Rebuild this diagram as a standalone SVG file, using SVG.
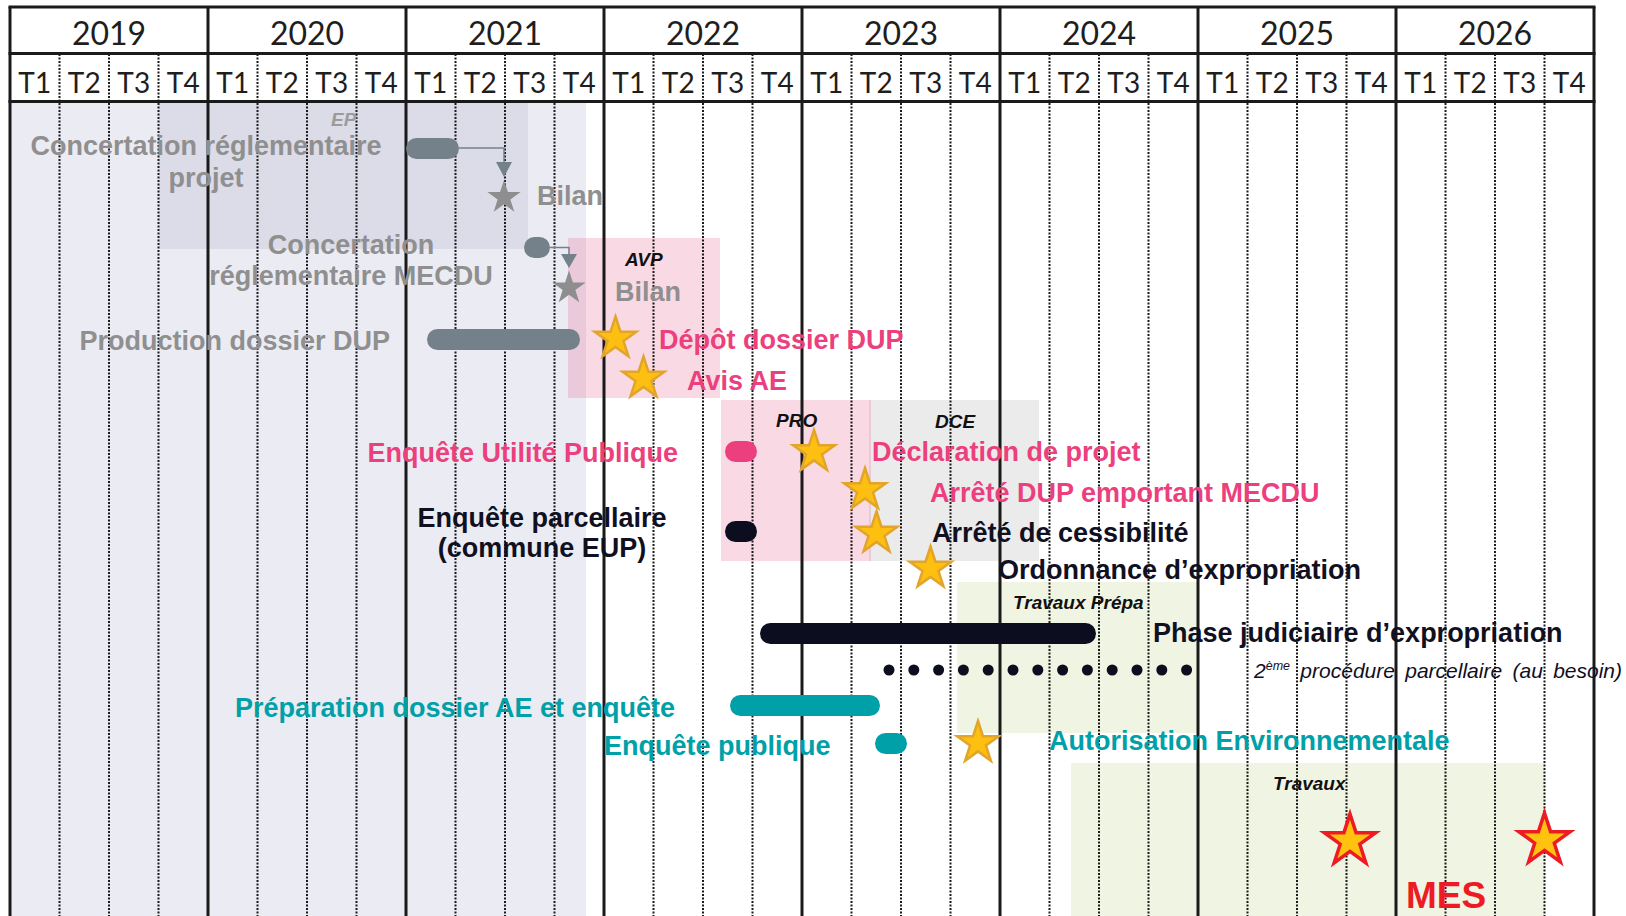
<svg xmlns="http://www.w3.org/2000/svg" xmlns:xlink="http://www.w3.org/1999/xlink" width="1626" height="916" viewBox="0 0 1626 916">
<style>
.yr{font-family:Lato,"Open Sans",sans-serif;font-size:32px;fill:#1e1e1e;text-anchor:middle}
.qt{font-family:Lato,"Open Sans",sans-serif;font-size:28px;fill:#1e1e1e;text-anchor:middle}
.lbl{font-family:"Liberation Sans",Arial,sans-serif;font-weight:bold;font-size:27px}
.tag{font-family:"Liberation Sans",Arial,sans-serif;font-weight:bold;font-style:italic;font-size:19px;fill:#111111}
.gray{fill:#8f8f8f}
.pink{fill:#ec3f7d}
.teal{fill:#00a0a8}
.dark{fill:#10101f}
.solid{stroke:#1a1a1a;stroke-width:3;fill:none}
.qline{stroke:#1a1a1a;stroke-width:2;stroke-dasharray:2 1.5;fill:none}
.conn{stroke:#75818a;stroke-width:1.5;fill:none}
</style>
<defs>
<path id="starGold" d="M0,-22 L4.94,-6.8 L20.92,-6.8 L7.99,2.6 L12.93,17.8 L0,8.4 L-12.93,17.8 L-7.99,2.6 L-20.92,-6.8 L-4.94,-6.8 Z" fill="#fdc010" stroke="#e2a42a" stroke-width="2.5" stroke-linejoin="miter"/>
<path id="starGray" d="M0,-17.5 L3.93,-5.41 L16.64,-5.41 L6.36,2.07 L10.29,14.16 L0,6.69 L-10.29,14.16 L-6.36,2.07 L-16.64,-5.41 L-3.93,-5.41 Z" fill="#8e8e8e"/>
<path id="starRed" d="M0,-27 L6.06,-8.34 L25.68,-8.34 L9.81,3.19 L15.87,21.84 L0,10.31 L-15.87,21.84 L-9.81,3.19 L-25.68,-8.34 L-6.06,-8.34 Z" fill="#ffc20e" stroke="#ed1c24" stroke-width="3.5"/>
</defs>
<rect x="0" y="0" width="1626" height="916" fill="#ffffff"/>

<g id="backgrounds">
<rect x="10" y="102" width="576" height="814" fill="#ebebf3"/>
<rect x="159" y="102" width="369" height="147" fill="#dcdbe8"/>
<rect x="869" y="400" width="170" height="161" fill="#ebebeb"/>
<rect x="568" y="238" width="152" height="160" fill="#e23f77" fill-opacity="0.2"/>
<rect x="721" y="400" width="150" height="161" fill="#e23f77" fill-opacity="0.2"/>
<rect x="957" y="582" width="241" height="151" fill="#f0f4e3"/>
<rect x="1071" y="763" width="474" height="153" fill="#f0f4e3"/>
</g>

<g id="grid">
<path class="qline" d="M59.5,54 V916 M109,54 V916 M158.5,54 V916 M257.5,54 V916 M307,54 V916 M356.5,54 V916 M455.5,54 V916 M505,54 V916 M554.5,54 V916 M653.5,54 V916 M703,54 V916 M752.5,54 V916 M851.5,54 V916 M901,54 V916 M950.5,54 V916 M1049.5,54 V916 M1099,54 V916 M1148.5,54 V916 M1247.5,54 V916 M1297,54 V916 M1346.5,54 V916 M1445.5,54 V916 M1495,54 V916 M1544.5,54 V916"/>
<path class="solid" d="M10,7 V916 M208,7 V916 M406,7 V916 M604,7 V916 M802,7 V916 M1000,7 V916 M1198,7 V916 M1396,7 V916 M1594,7 V916"/>
<path class="solid" d="M8.5,7 H1595.5 M8.5,53.5 H1595.5 M8.5,101.5 H1595.5"/>
</g>

<g id="header">
<text class="yr" x="109" y="45">2019</text>
<text class="yr" x="307" y="45">2020</text>
<text class="yr" x="505" y="45">2021</text>
<text class="yr" x="703" y="45">2022</text>
<text class="yr" x="901" y="45">2023</text>
<text class="yr" x="1099" y="45">2024</text>
<text class="yr" x="1297" y="45">2025</text>
<text class="yr" x="1495" y="45">2026</text>
<text class="qt" x="34.75" y="92.5">T1</text><text class="qt" x="84.25" y="92.5">T2</text><text class="qt" x="133.75" y="92.5">T3</text><text class="qt" x="183.25" y="92.5">T4</text>
<text class="qt" x="232.75" y="92.5">T1</text><text class="qt" x="282.25" y="92.5">T2</text><text class="qt" x="331.75" y="92.5">T3</text><text class="qt" x="381.25" y="92.5">T4</text>
<text class="qt" x="430.75" y="92.5">T1</text><text class="qt" x="480.25" y="92.5">T2</text><text class="qt" x="529.75" y="92.5">T3</text><text class="qt" x="579.25" y="92.5">T4</text>
<text class="qt" x="628.75" y="92.5">T1</text><text class="qt" x="678.25" y="92.5">T2</text><text class="qt" x="727.75" y="92.5">T3</text><text class="qt" x="777.25" y="92.5">T4</text>
<text class="qt" x="826.75" y="92.5">T1</text><text class="qt" x="876.25" y="92.5">T2</text><text class="qt" x="925.75" y="92.5">T3</text><text class="qt" x="975.25" y="92.5">T4</text>
<text class="qt" x="1024.75" y="92.5">T1</text><text class="qt" x="1074.25" y="92.5">T2</text><text class="qt" x="1123.75" y="92.5">T3</text><text class="qt" x="1173.25" y="92.5">T4</text>
<text class="qt" x="1222.75" y="92.5">T1</text><text class="qt" x="1272.25" y="92.5">T2</text><text class="qt" x="1321.75" y="92.5">T3</text><text class="qt" x="1371.25" y="92.5">T4</text>
<text class="qt" x="1420.75" y="92.5">T1</text><text class="qt" x="1470.25" y="92.5">T2</text><text class="qt" x="1519.75" y="92.5">T3</text><text class="qt" x="1569.25" y="92.5">T4</text>
</g>

<g id="phase-tags">
<text class="tag" x="331" y="126" style="fill:#9b9b9b">EP</text>
<text class="tag" x="625" y="266">AVP</text>
<text class="tag" x="776" y="427">PRO</text>
<text class="tag" x="935" y="428">DCE</text>
<text class="tag" x="1013" y="609">Travaux Prépa</text>
<text class="tag" x="1273" y="790">Travaux</text>
</g>

<g id="connectors">
<path class="conn" d="M459,148 H504 V163"/>
<path d="M496,162 L512,162 L504,177 Z" fill="#75818a"/>
<path class="conn" d="M550,247.5 H569 V255"/>
<path d="M561,254 L577,254 L569,268 Z" fill="#75818a"/>
</g>

<g id="concertation-projet">
<rect x="406" y="138" width="53" height="21" rx="10.5" fill="#75818a"/>
<text class="lbl gray" x="206" y="155" text-anchor="middle">Concertation réglementaire</text>
<text class="lbl gray" x="206" y="187" text-anchor="middle">projet</text>
</g>
<g id="bilan-1">
<use href="#starGray" x="504" y="197.5"/>
<text class="lbl gray" x="537" y="205">Bilan</text>
</g>
<g id="concertation-mecdu">
<rect x="524" y="237" width="26" height="21" rx="10.5" fill="#75818a"/>
<text class="lbl gray" x="351" y="254" text-anchor="middle">Concertation</text>
<text class="lbl gray" x="351" y="285" text-anchor="middle">réglementaire MECDU</text>
</g>
<g id="bilan-2">
<use href="#starGray" x="569" y="288"/>
<text class="lbl gray" x="615" y="301">Bilan</text>
</g>
<g id="production-dup">
<rect x="427" y="329" width="153" height="21" rx="10.5" fill="#75818a"/>
<text class="lbl gray" x="390" y="350" text-anchor="end">Production dossier DUP</text>
</g>
<g id="depot-dup">
<use href="#starGold" x="615.5" y="338.5"/>
<text class="lbl pink" x="659" y="349">Dépôt dossier DUP</text>
</g>
<g id="avis-ae">
<use href="#starGold" x="643.5" y="378.5"/>
<text class="lbl pink" x="687" y="390">Avis AE</text>
</g>
<g id="enquete-up">
<rect x="725" y="441" width="32" height="21" rx="10.5" fill="#ec3f7d"/>
<text class="lbl pink" x="678" y="462" text-anchor="end">Enquête Utilité Publique</text>
</g>
<g id="declaration-projet">
<use href="#starGold" x="814" y="452"/>
<text class="lbl pink" x="872" y="461">Déclaration de projet</text>
</g>
<g id="arrete-dup">
<use href="#starGold" x="865" y="490"/>
<text class="lbl pink" x="930" y="502">Arrêté DUP emportant MECDU</text>
</g>
<g id="enquete-parcellaire">
<rect x="725" y="521" width="32" height="21" rx="10.5" fill="#0c0d1e"/>
<text class="lbl dark" x="542" y="527" text-anchor="middle">Enquête parcellaire</text>
<text class="lbl dark" x="542" y="557" text-anchor="middle">(commune EUP)</text>
</g>
<g id="arrete-cessibilite">
<use href="#starGold" x="876.5" y="533.5"/>
<text class="lbl dark" x="932" y="542">Arrêté de cessibilité</text>
</g>
<g id="ordonnance">
<use href="#starGold" x="930.5" y="568.5"/>
<text class="lbl dark" x="998" y="579">Ordonnance d’expropriation</text>
</g>
<g id="phase-judiciaire">
<rect x="760" y="623" width="336" height="21" rx="10.5" fill="#0c0d1e"/>
<text class="lbl dark" x="1153" y="642">Phase judiciaire d’expropriation</text>
</g>
<g id="procedure-parcellaire" fill="#0c0d1e">
<circle cx="889" cy="670" r="5.5"/><circle cx="913.8" cy="670" r="5.5"/><circle cx="938.6" cy="670" r="5.5"/><circle cx="963.4" cy="670" r="5.5"/><circle cx="988.2" cy="670" r="5.5"/><circle cx="1013" cy="670" r="5.5"/><circle cx="1037.8" cy="670" r="5.5"/><circle cx="1062.6" cy="670" r="5.5"/><circle cx="1087.4" cy="670" r="5.5"/><circle cx="1112.2" cy="670" r="5.5"/><circle cx="1137" cy="670" r="5.5"/><circle cx="1161.8" cy="670" r="5.5"/><circle cx="1186.6" cy="670" r="5.5"/>
<text x="1254" y="678" style="font-family:'Liberation Sans',Arial,sans-serif;font-style:italic;font-size:21px;fill:#10101f;word-spacing:4.5px">2<tspan font-size="12.5" dy="-8.5">ème</tspan><tspan dy="8.5"> procédure parcellaire (au besoin)</tspan></text>
</g>
<g id="preparation-ae">
<rect x="730" y="695" width="150" height="21" rx="10.5" fill="#00a0a8"/>
<text class="lbl teal" x="675" y="717" text-anchor="end">Préparation dossier AE et enquête</text>
</g>
<g id="enquete-publique">
<rect x="875" y="733" width="32" height="21" rx="10.5" fill="#00a0a8"/>
<text class="lbl teal" x="604" y="755">Enquête publique</text>
</g>
<g id="autorisation-env">
<use href="#starGold" x="978" y="743"/>
<text class="lbl teal" x="1049" y="750">Autorisation Environnementale</text>
</g>
<g id="mes">
<use href="#starRed" x="1350" y="841"/>
<use href="#starRed" x="1544.5" y="840"/>
<text x="1406" y="908" style="font-family:'Liberation Sans',Arial,sans-serif;font-weight:bold;font-size:37px;fill:#ed1c24">MES</text>
</g>
</svg>
